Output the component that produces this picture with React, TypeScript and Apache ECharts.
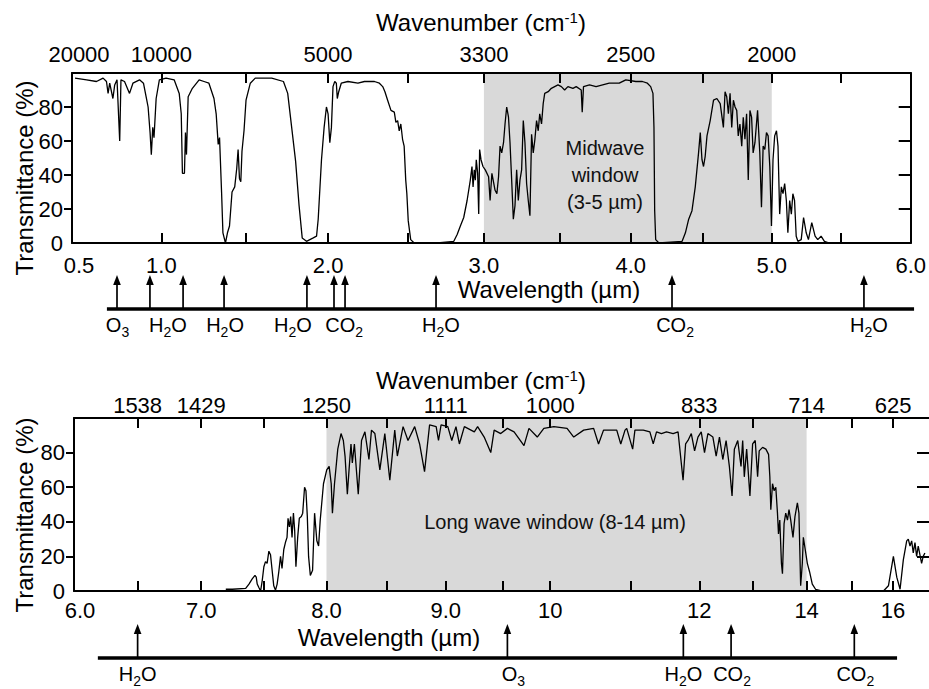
import React, { useEffect, useRef } from 'react';
import * as echarts from 'echarts';

// ---------- Top panel spectrum (wavelength µm, transmittance %) ----------
const topWavelength = [
  0.517, 0.582, 0.637, 0.674, 0.693, 0.702, 0.711, 0.729, 0.739, 0.752, 0.767, 0.774, 0.794, 0.822, 0.841, 0.878,
  0.9, 0.915, 0.926, 0.937, 0.944, 0.952, 0.959, 0.971, 0.989, 1.028, 1.076, 1.106, 1.118, 1.125, 1.137, 1.143,
  1.149, 1.159, 1.184, 1.224, 1.253, 1.282, 1.312, 1.325, 1.337, 1.345, 1.357, 1.365, 1.38, 1.392, 1.404, 1.419,
  1.435, 1.447, 1.455, 1.463, 1.471, 1.478, 1.49, 1.502, 1.528, 1.558, 1.658, 1.729, 1.755, 1.779, 1.803, 1.824,
  1.843, 1.869, 1.91, 1.93, 1.94, 1.96, 1.976, 1.99, 2.0, 2.011, 2.021, 2.031, 2.042, 2.052, 2.058, 2.067,
  2.083, 2.125, 2.188, 2.229, 2.292, 2.323, 2.344, 2.358, 2.375, 2.396, 2.417, 2.427, 2.438, 2.448, 2.458, 2.469,
  2.479, 2.489, 2.496, 2.505, 2.521, 2.544, 2.695, 2.803, 2.825, 2.846, 2.868, 2.89, 2.911, 2.922, 2.929, 2.937,
  2.944, 2.95, 2.959, 2.966, 2.972, 2.981, 2.994, 3.009, 3.031, 3.041, 3.053, 3.074, 3.086, 3.097, 3.107, 3.118,
  3.13, 3.14, 3.151, 3.163, 3.173, 3.184, 3.195, 3.206, 3.217, 3.228, 3.239, 3.25, 3.261, 3.272, 3.283, 3.294,
  3.305, 3.316, 3.327, 3.338, 3.349, 3.36, 3.37, 3.382, 3.393, 3.403, 3.426, 3.447, 3.469, 3.491, 3.514, 3.537,
  3.56, 3.595, 3.618, 3.653, 3.66, 3.669, 3.711, 3.757, 3.803, 3.849, 3.896, 3.919, 3.965, 4.035, 4.081, 4.116,
  4.139, 4.155, 4.162, 4.167, 4.174, 4.197, 4.359, 4.382, 4.405, 4.428, 4.451, 4.474, 4.486, 4.498, 4.509, 4.521,
  4.534, 4.557, 4.581, 4.605, 4.629, 4.652, 4.664, 4.676, 4.688, 4.7, 4.712, 4.724, 4.736, 4.748, 4.759, 4.771,
  4.784, 4.795, 4.807, 4.819, 4.831, 4.843, 4.855, 4.866, 4.879, 4.898, 4.914, 4.926, 4.938, 4.95, 4.962, 4.974,
  4.986, 4.998, 5.009, 5.021, 5.034, 5.045, 5.057, 5.069, 5.081, 5.093, 5.105, 5.116, 5.129, 5.141, 5.152, 5.164,
  5.176, 5.188, 5.212, 5.229, 5.248, 5.264, 5.288, 5.312, 5.331, 5.355, 5.379, 5.414,
];
const topTransmittance = [
  97, 96, 95, 97, 95, 88, 94, 85, 93, 96, 60, 96, 95, 88, 94, 96,
  94, 86, 80, 65, 52, 68, 62, 85, 96, 97, 96, 88, 76, 41, 41, 65,
  52, 86, 91, 96, 95, 94, 85, 76, 58, 62, 30, 6, 0, 6, 10, 30,
  33, 44, 55, 38, 36, 54, 66, 84, 94, 97, 97, 95, 88, 68, 48, 22,
  3, 1, 3, 4, 14, 49, 68, 80, 76, 59, 68, 92, 95, 94, 85, 89,
  94, 95, 94, 95, 95, 94, 92, 89, 84, 78, 77, 71, 72, 66, 70, 61,
  57, 37, 29, 13, 2, 0, 0, 1, 5, 10, 15, 25, 37, 45, 33, 43,
  37, 49, 41, 17, 55, 49, 45, 43, 39, 25, 41, 31, 29, 39, 57, 53,
  59, 70, 80, 74, 59, 37, 14, 22, 43, 25, 37, 43, 72, 59, 35, 25,
  16, 64, 53, 61, 72, 66, 76, 70, 82, 88, 89, 91, 92, 93, 92, 90,
  92, 91, 92, 90, 77, 92, 93, 92, 93, 94, 94, 94, 96, 95, 95, 94,
  92, 88, 68, 19, 2, 0, 1, 6, 14, 19, 33, 53, 65, 49, 45, 51,
  63, 72, 84, 85, 82, 68, 89, 86, 76, 88, 68, 84, 80, 78, 63, 70,
  57, 74, 61, 76, 37, 78, 74, 53, 59, 78, 53, 21, 57, 55, 65, 63,
  45, 10, 49, 63, 66, 57, 17, 33, 29, 35, 25, 6, 25, 17, 29, 25,
  4, 1, 2, 15, 6, 2, 12, 4, 2, 4, 1, 0,
];

// ---------- Bottom panel spectrum ----------
const bottomWavelength = [
  7.196, 7.248, 7.355, 7.381, 7.407, 7.429, 7.439, 7.447, 7.46, 7.474, 7.487, 7.5, 7.513, 7.526, 7.54, 7.553,
  7.566, 7.579, 7.593, 7.606, 7.619, 7.633, 7.645, 7.659, 7.672, 7.685, 7.693, 7.704, 7.714, 7.725, 7.736, 7.746,
  7.756, 7.77, 7.783, 7.799, 7.81, 7.825, 7.836, 7.847, 7.857, 7.871, 7.889, 7.905, 7.923, 7.937, 7.95, 7.976,
  8.002, 8.022, 8.039, 8.049, 8.066, 8.093, 8.12, 8.139, 8.153, 8.172, 8.186, 8.202, 8.213, 8.23, 8.262, 8.289,
  8.317, 8.35, 8.371, 8.399, 8.44, 8.481, 8.523, 8.565, 8.587, 8.636, 8.678, 8.735, 8.777, 8.819, 8.862, 8.918,
  8.938, 8.96, 9.018, 9.053, 9.09, 9.12, 9.164, 9.252, 9.281, 9.339, 9.397, 9.427, 9.485, 9.552, 9.622, 9.726,
  9.778, 9.865, 9.934, 10.046, 10.21, 10.293, 10.416, 10.54, 10.601, 10.663, 10.827, 10.877, 10.93, 10.951, 11.029, 11.062,
  11.184, 11.28, 11.329, 11.377, 11.449, 11.522, 11.619, 11.691, 11.764, 11.801, 11.836, 11.884, 11.932, 11.981, 12.037, 12.098,
  12.161, 12.254, 12.315, 12.376, 12.439, 12.5, 12.561, 12.611, 12.654, 12.717, 12.778, 12.809, 12.839, 12.883, 12.944, 12.994,
  13.043, 13.087, 13.117, 13.18, 13.241, 13.291, 13.315, 13.333, 13.365, 13.394, 13.426, 13.457, 13.476, 13.5, 13.531, 13.55,
  13.58, 13.611, 13.643, 13.672, 13.704, 13.746, 13.783, 13.828, 13.857, 13.889, 13.92, 13.939, 13.969, 14.016, 14.067, 14.127,
  14.2, 14.311, 14.422,
];
const bottomTransmittance = [
  1, 1, 1.5, 4, 7, 9, 8, 4, 2, 0, 6, 14, 17, 16, 23, 21,
  12, 3, 0.5, 4, 11, 20, 13, 24, 28, 31, 42, 37, 43, 31, 45, 35,
  14, 31, 42, 43, 45, 60, 58, 43, 20, 9, 12, 45, 29, 26, 41, 62,
  70, 72, 62, 45, 62, 82, 91, 87, 78, 56, 70, 85, 74, 85, 56, 87,
  92, 76, 93, 91, 70, 91, 64, 93, 78, 95, 87, 95, 85, 69, 96, 95,
  87, 96, 95, 87, 95, 85, 95, 92, 95, 89, 80, 93, 91, 94, 92, 84,
  94, 89, 94, 95, 94, 89, 93, 94, 85, 93, 93, 85, 93, 94, 82, 93,
  93, 92, 85, 92, 91, 92, 91, 92, 64, 85, 87, 91, 81, 89, 92, 80,
  91, 89, 78, 89, 76, 87, 72, 55, 82, 87, 72, 87, 66, 82, 55, 85,
  87, 66, 81, 83, 82, 79, 66, 47, 62, 58, 60, 45, 33, 41, 16, 10,
  39, 45, 41, 47, 41, 31, 43, 51, 45, 3, 16, 31, 25, 16, 11, 4,
  1, 0.2, 0,
];
const farWavelength = [15.769, 15.888, 16.007, 16.088, 16.167, 16.245, 16.326, 16.364, 16.405, 16.445, 16.483, 16.524, 16.564, 16.602, 16.683, 16.721, 16.762];
const farTransmittance = [0, 3, 20, 8, 1, 18, 29, 30, 26, 29, 22, 28, 20, 26, 16, 20, 22];

// ---------- Axis scales (the figure's wavelength axes are non-linear) ----------
const topScaleWl = [0.5, 1, 1.5, 2, 2.5, 3, 3.5, 4, 4.5, 5, 5.5, 6];
const topScalePos = [0, 90, 175, 258, 338, 415, 491, 563, 635, 705, 775, 845];
const bottomScaleWl = [6, 6.5, 7, 7.5, 8, 8.5, 9, 9.5, 10, 11, 12, 13, 14, 15, 16, 17];
const bottomScalePos = [0, 64, 128, 191, 254, 315, 374, 431, 479, 560, 629, 683, 737, 782, 824, 866];

const topTickWl = [1, 1.5, 2, 2.5, 3, 3.5, 4, 4.5, 5, 5.5];
const topLabelWl = [0.5, 1, 2, 3, 4, 5, 6];
const topLabelText = ['0.5', '1.0', '2.0', '3.0', '4.0', '5.0', '6.0'];
const topWavenumberWl = [0.5, 1, 2, 3, 4, 5];
const topWavenumberText = ['20000', '10000', '5000', '3300', '2500', '2000'];

const bottomTickWl = [6.5, 7, 7.5, 8, 8.5, 9, 9.5, 10, 11, 12, 13, 14, 15, 16];
const bottomLabelWl = [6, 7, 8, 9, 10, 12, 14, 16];
const bottomLabelText = ['6.0', '7.0', '8.0', '9.0', '10', '12', '14', '16'];
const bottomWavenumberWl = [6.5, 7, 8, 9, 10, 12, 14, 16];
const bottomWavenumberText = ['1538', '1429', '1250', '1111', '1000', '833', '714', '625'];

const yLabelValues = [0, 20, 40, 60, 80];
const yTickValues = [20, 40, 60, 80];

// ---------- Windows and absorbers ----------
const topWindow = [3, 5];
const bottomWindow = [8, 14];

const topArrowWl = [0.75, 0.933, 1.124, 1.365, 1.861, 2.025, 2.094, 2.669, 4.257, 5.621];
const topMoleculeNames = ['O3', 'H2O', 'H2O', 'H2O', 'CO2', 'H2O', 'CO2', 'H2O'];
const topMoleculeWl = [0.753, 1.035, 1.371, 1.777, 2.088, 2.701, 4.278, 5.657];
const topBaselineWl = [0.694, 5.979];

const bottomArrowWl = [6.5, 9.552, 11.768, 12.593, 15.071];
const bottomMoleculeNames = ['H2O', 'O3', 'H2O', 'CO2', 'CO2'];
const bottomMoleculeWl = [6.5, 9.615, 11.768, 12.611, 15.095];
const bottomBaselineWl = [6.1875, 16.095];

const FONT = '"Liberation Sans", Arial, Helvetica, sans-serif';

function makeWarp(W: number[], P: number[]) {
  return (w: number) => {
    for (let i = 0; i < W.length - 1; i++) {
      if (w <= W[i + 1] || i === W.length - 2) {
        return P[i] + ((w - W[i]) / (W[i + 1] - W[i])) * (P[i + 1] - P[i]);
      }
    }
    return P[P.length - 1];
  };
}
const warpTop = makeWarp(topScaleWl, topScalePos);
const warpBottom = makeWarp(bottomScaleWl, bottomScalePos);

const chem = (s: string) => s.replace(/([A-Za-z]+)|(\d+)/g, (_m, a, d) => (a ? `{m|${a}}` : `{s|${d}}`));

const chemRich = {
  m: { fontSize: 20, lineHeight: 20, fontFamily: FONT, fill: '#000', verticalAlign: 'top' },
  s: { fontSize: 14, lineHeight: 24, fontFamily: FONT, fill: '#000', verticalAlign: 'bottom' },
};

const black = '#000';
const axisLineStyle = { color: black, width: 2 };

function labelFor(v: number, pos: number[], text: string[]) {
  for (let i = 0; i < pos.length; i++) {
    if (Math.abs(pos[i] - v) < 0.01) return i === 0 ? `{first|${text[i]}}` : text[i];
  }
  return '';
}

function xAxisPair(gridIndex: number, warp: (w: number) => number, max: number, tickWl: number[],
  labelWl: number[], labelText: string[], numWl: number[], numText: string[],
  bottomMargin: number, topMargin: number, firstShift: number, firstNumShift: number) {
  const tickPos = tickWl.map(warp);
  const labPos = labelWl.map(warp);
  const numPos = numWl.map(warp);
  return [
    {
      type: 'value', gridIndex, position: 'bottom', min: 0, max, z: 5,
      axisLine: { show: true, onZero: false, lineStyle: axisLineStyle },
      axisTick: { show: true, inside: true, length: 10, customValues: tickPos, lineStyle: axisLineStyle },
      axisLabel: {
        show: true, customValues: labPos, formatter: (v: number) => labelFor(v, labPos, labelText),
        color: black, fontSize: 22, fontFamily: FONT, margin: bottomMargin, lineHeight: 18,
        rich: { first: { fontSize: 22, fontFamily: FONT, color: black, lineHeight: 18, padding: [0, 0, 0, firstShift] } },
      },
      splitLine: { show: false },
    },
    {
      type: 'value', gridIndex, position: 'top', min: 0, max, z: 5,
      axisLine: { show: true, onZero: false, lineStyle: axisLineStyle },
      axisTick: { show: true, inside: true, length: 10, customValues: tickPos, lineStyle: axisLineStyle },
      axisLabel: {
        show: true, customValues: numPos, formatter: (v: number) => labelFor(v, numPos, numText),
        color: black, fontSize: 22, fontFamily: FONT, margin: topMargin, lineHeight: 20,
        rich: { first: { fontSize: 22, fontFamily: FONT, color: black, lineHeight: 20, padding: [0, 0, 0, firstNumShift] } },
      },
      splitLine: { show: false },
    },
  ];
}

function yAxisPair(gridIndex: number, rightLine: boolean) {
  return [
    {
      type: 'value', gridIndex, position: 'left', min: 0, max: 100, z: 5,
      axisLine: { show: true, onZero: false, lineStyle: axisLineStyle },
      axisTick: { show: true, inside: false, length: 8, customValues: yTickValues, lineStyle: axisLineStyle },
      axisLabel: { show: true, customValues: yLabelValues, color: black, fontSize: 22, fontFamily: FONT, margin: 9, lineHeight: 16 },
      splitLine: { show: false },
    },
    {
      type: 'value', gridIndex, position: 'right', min: 0, max: 100, z: 5,
      axisLine: { show: rightLine, onZero: false, lineStyle: axisLineStyle },
      axisTick: { show: true, inside: true, length: 12, customValues: yTickValues, lineStyle: axisLineStyle },
      axisLabel: { show: false },
      splitLine: { show: false },
    },
  ];
}

function hiddenAxes(gridIndex: number, max: number) {
  return {
    x: { type: 'value', gridIndex, min: 0, max, show: false },
    y: { type: 'value', gridIndex, min: 0, max: 1, show: false },
  };
}

function arrowSeries(xAxisIndex: number, yAxisIndex: number, warp: (w: number) => number, arrows: number[]) {
  return {
    type: 'custom', xAxisIndex, yAxisIndex, silent: true, z: 4,
    data: arrows.map((w) => [warp(w), 0]),
    renderItem: (_p: any, api: any) => {
      const b = api.coord([api.value(0), 0]);
      const t = api.coord([api.value(0), 1]);
      return {
        type: 'group',
        children: [
          { type: 'line', shape: { x1: b[0], y1: b[1], x2: t[0], y2: t[1] + 8 }, style: { stroke: black, lineWidth: 1.7 } },
          { type: 'polygon', shape: { points: [[t[0], t[1]], [t[0] - 3.8, t[1] + 10], [t[0] + 3.8, t[1] + 10]] }, style: { fill: black } },
        ],
      };
    },
  };
}

function moleculeSeries(xAxisIndex: number, yAxisIndex: number, warp: (w: number) => number, wl: number[], names: string[]) {
  return {
    type: 'custom', xAxisIndex, yAxisIndex, silent: true, z: 4,
    data: wl.map((w) => [warp(w), 0]),
    renderItem: (p: any, api: any) => {
      const b = api.coord([api.value(0), 0]);
      return {
        type: 'text', x: b[0], y: b[1] + 6,
        style: { text: chem(names[p.dataIndex]), rich: chemRich, align: 'center', verticalAlign: 'top', fill: black },
      };
    },
  };
}

function baselineSeries(xAxisIndex: number, yAxisIndex: number, warp: (w: number) => number, ends: number[]) {
  return {
    type: 'line', xAxisIndex, yAxisIndex, symbol: 'none', silent: true, clip: false, z: 4,
    data: ends.map((w) => [warp(w), 0]),
    lineStyle: { color: black, width: 3.5 },
  };
}

function windowSeries(xAxisIndex: number, yAxisIndex: number, warp: (w: number) => number, span: number[]) {
  return {
    type: 'line', xAxisIndex, yAxisIndex, data: [], symbol: 'none', silent: true, z: 1,
    markArea: {
      silent: true,
      itemStyle: { color: '#d9d9d9' },
      label: { show: false },
      data: [[{ xAxis: warp(span[0]) }, { xAxis: warp(span[1]) }]],
    },
  };
}

function spectrumSeries(xAxisIndex: number, yAxisIndex: number, warp: (w: number) => number, wl: number[], t: number[]) {
  return {
    type: 'line', xAxisIndex, yAxisIndex, symbol: 'none', showSymbol: false, silent: true, z: 3,
    data: wl.map((w, i) => [warp(w), t[i]]),
    lineStyle: { color: black, width: 1.3 },
  };
}

const TOP_MAX = topScalePos[topScalePos.length - 1];
const BOTTOM_MAX = warpBottom(16.86);

function buildOption() {
  const [tx0, tx1] = xAxisPair(0, warpTop, TOP_MAX, topTickWl, topLabelWl, topLabelText, topWavenumberWl, topWavenumberText, 13, 9, 14, 14);
  const [bx0, bx1] = xAxisPair(2, warpBottom, BOTTOM_MAX, bottomTickWl, bottomLabelWl, bottomLabelText, bottomWavenumberWl, bottomWavenumberText, 10, 3, 12, 0);
  const [ty0, ty1] = yAxisPair(0, true);
  const [by0, by1] = yAxisPair(2, false);
  const ha = hiddenAxes(1, TOP_MAX);
  const hb = hiddenAxes(3, BOTTOM_MAX);

  const nameStyle = { fontSize: 24, lineHeight: 24, fontFamily: FONT, fill: black };
  const wavenumberRich = {
    n: { fontSize: 24, lineHeight: 24, fontFamily: FONT, fill: black },
    sup: { fontSize: 15, lineHeight: 11, fontFamily: FONT, fill: black, verticalAlign: 'top' },
  };

  return {
    animation: false,
    backgroundColor: '#fff',
    grid: [
      { left: 72, top: 73, width: 845, height: 170 },
      { left: 72, top: 275, width: 845, height: 34 },
      { left: 74, top: 418, width: 860, height: 173 },
      { left: 74, top: 624, width: 860, height: 34 },
    ],
    xAxis: [tx0, tx1, ha.x, bx0, bx1, hb.x],
    yAxis: [ty0, ty1, ha.y, by0, by1, hb.y],
    series: [
      windowSeries(0, 0, warpTop, topWindow),
      spectrumSeries(0, 0, warpTop, topWavelength, topTransmittance),
      baselineSeries(2, 2, warpTop, topBaselineWl),
      arrowSeries(2, 2, warpTop, topArrowWl),
      moleculeSeries(2, 2, warpTop, topMoleculeWl, topMoleculeNames),
      windowSeries(3, 3, warpBottom, bottomWindow),
      spectrumSeries(3, 3, warpBottom, bottomWavelength, bottomTransmittance),
      spectrumSeries(3, 3, warpBottom, farWavelength, farTransmittance),
      baselineSeries(5, 5, warpBottom, bottomBaselineWl),
      arrowSeries(5, 5, warpBottom, bottomArrowWl),
      moleculeSeries(5, 5, warpBottom, bottomMoleculeWl, bottomMoleculeNames),
    ],
    graphic: [
      { type: 'text', x: 481, y: 22, z: 10, style: { text: '{n|Wavenumber (cm}{sup|-1}{n|)}', rich: wavenumberRich, align: 'center', verticalAlign: 'middle' } },
      { type: 'text', x: 481, y: 380, z: 10, style: { text: '{n|Wavenumber (cm}{sup|-1}{n|)}', rich: wavenumberRich, align: 'center', verticalAlign: 'middle' } },
      { type: 'text', x: 549, y: 289, z: 10, style: { ...nameStyle, text: 'Wavelength (µm)', align: 'center', verticalAlign: 'middle' } },
      { type: 'text', x: 389, y: 637, z: 10, style: { ...nameStyle, text: 'Wavelength (µm)', align: 'center', verticalAlign: 'middle' } },
      { type: 'text', x: 24, y: 178, z: 10, rotation: Math.PI / 2, style: { ...nameStyle, text: 'Transmittance (%)', align: 'center', verticalAlign: 'middle' } },
      { type: 'text', x: 24, y: 515, z: 10, rotation: Math.PI / 2, style: { ...nameStyle, text: 'Transmittance (%)', align: 'center', verticalAlign: 'middle' } },
      { type: 'text', x: 605, y: 175, z: 10, style: { fontSize: 20, fontFamily: FONT, fill: '#111', lineHeight: 27, text: 'Midwave\nwindow\n(3-5 µm)', align: 'center', verticalAlign: 'middle' } },
      { type: 'text', x: 555, y: 522, z: 10, style: { fontSize: 20, fontFamily: FONT, fill: '#111', text: 'Long wave window (8-14 µm)', align: 'center', verticalAlign: 'middle' } },
    ],
  };
}

export default function App() {
  const ref = useRef<HTMLDivElement>(null);
  useEffect(() => {
    if (!ref.current) return;
    const chart = echarts.init(ref.current, null, { renderer: 'svg' });
    chart.setOption(buildOption() as any);
    return () => chart.dispose();
  }, []);
  return (
    <div
      ref={ref}
      style={{ position: 'absolute', left: 0, top: 0, width: 929, height: 689, background: '#fff', overflow: 'hidden' }}
    />
  );
}
